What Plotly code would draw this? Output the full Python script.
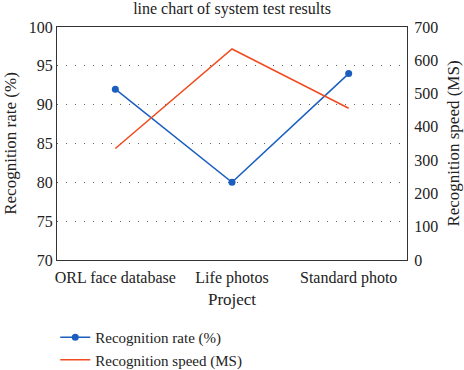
import plotly.graph_objects as go

categories = ["ORL face database", "Life photos", "Standard photo"]
rate = [92, 80, 94]
speed = [335, 634, 456]

FONT = "Liberation Serif, Times New Roman, serif"
BLUE = "#1a5fbf"
RED = "#f24b1f"

fig = go.Figure()
fig.add_trace(go.Scatter(x=[0, 1, 2], y=rate, mode="lines+markers", name="Recognition rate (%)",
                         line=dict(color=BLUE, width=1.5), marker=dict(size=7, color=BLUE)))
fig.add_trace(go.Scatter(x=[0, 1, 2], y=speed, mode="lines", name="Recognition speed (MS)",
                         line=dict(color=RED, width=1.5), yaxis="y2"))

fig.update_layout(
    width=464, height=370,
    margin=dict(l=57, r=57, t=27, b=110, autoexpand=False),
    paper_bgcolor="white", plot_bgcolor="white",
    font=dict(family=FONT, size=16, color="#222"),
    title=dict(text="line chart of system test results", x=0.5, xanchor="center", y=0.977, yanchor="middle",
               font=dict(family=FONT, size=16)),
    xaxis=dict(tickmode="array", tickvals=[0, 1, 2], ticktext=categories, range=[-0.5, 2.5],
               showline=True, linecolor="#333", linewidth=1.2, mirror=True, showgrid=False, zeroline=False,
               ticks="", automargin=False, tickangle=0, ticklabelstandoff=3,
               title=dict(text="Project", standoff=6, font=dict(family=FONT, size=17)),
               tickfont=dict(family=FONT, size=16)),
    yaxis=dict(range=[70, 100], dtick=5, showline=True, linecolor="#333", linewidth=1.2,
               showgrid=True, gridcolor="#666", griddash="1px,8px", gridwidth=1, zeroline=False, ticks="",
               automargin=False, tickfont=dict(family=FONT, size=16),
               title=dict(text="Recognition rate (%)", standoff=7, font=dict(family=FONT, size=17))),
    yaxis2=dict(range=[0, 700], dtick=100, overlaying="y", side="right", showline=True,
                linecolor="#333", linewidth=1.2, showgrid=False, zeroline=False, ticks="",
                automargin=False, tickfont=dict(family=FONT, size=16), ticklabelstandoff=3,
                title=dict(text="Recognition speed (MS)", standoff=9, font=dict(family=FONT, size=17))),
    legend=dict(x=-0.005, y=-0.262, xanchor="left", yanchor="top",
                orientation="v", bgcolor="rgba(0,0,0,0)",
                font=dict(family=FONT, size=15, color="#222"), tracegroupgap=0, itemwidth=30),
    showlegend=True,
)

fig.write_html("out.html", config={"displayModeBar": False},
               post_script="document.body.style.margin='0';")
